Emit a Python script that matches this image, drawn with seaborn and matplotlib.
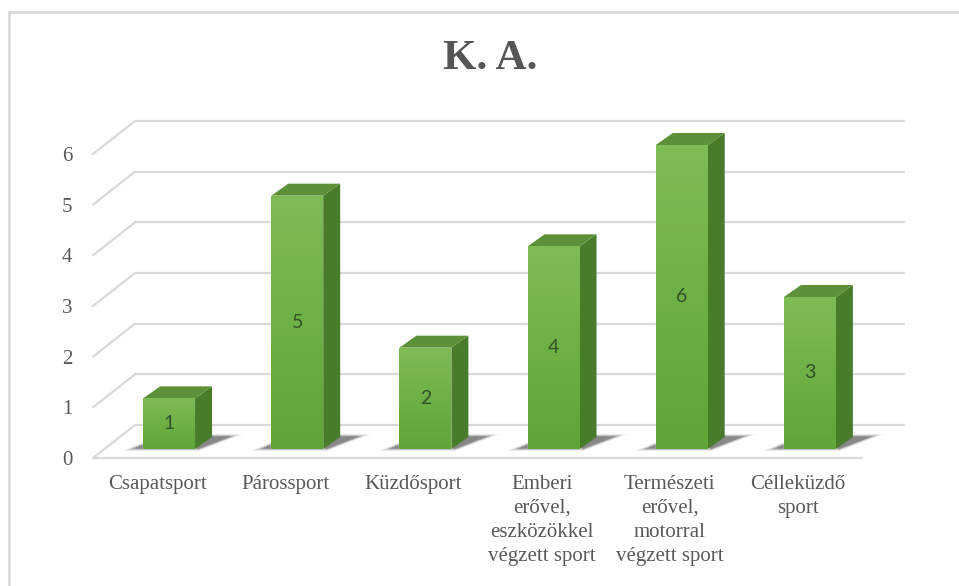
import numpy as np
import matplotlib
matplotlib.use("Agg")
import matplotlib.pyplot as plt
import seaborn as sns
import pandas as pd
from matplotlib.patches import Polygon
from matplotlib.transforms import ScaledTranslation, IdentityTransform
from matplotlib.colors import LinearSegmentedColormap

# ---- data ----
categories = ["Csapatsport", "Párossport", "Küzdősport",
              "Emberi\nerővel,\neszközökkel\nvégzett sport",
              "Természeti\nerővel,\nmotorral\nvégzett sport",
              "Célleküzdő\nsport"]
values = [1, 5, 2, 4, 6, 3]
y_ticks = [0, 1, 2, 3, 4, 5, 6]
title_text = "K. A."

# ---- style ----
W, H, DPI = 959, 586, 100
FRONT = (-12, -9)   # front plane offset (display px) relative to bar plane
BACK = (30, 24)     # back wall offset
DEPTH = (17, 12)    # bar depth
GRID = "#d9d9d9"
TXT = "#595959"

sns.set_theme(style="white")
plt.rcParams['font.family'] = ['Liberation Serif', 'DejaVu Serif']

fig = plt.figure(figsize=(W / DPI, H / DPI), dpi=DPI)
ax = fig.add_axes([105 / W, 137 / H, 769 / W, 304 / H])
df = pd.DataFrame({"cat": categories, "val": values})
sns.barplot(data=df, x="cat", y="val", width=0.405, color="#6aae3e",
            saturation=1, ax=ax, zorder=3)
ax.set_xlim(-0.5, 5.5)
ax.set_ylim(0, 6)
for s in ax.spines.values():
    s.set_visible(False)
ax.set_xlabel("")
ax.set_ylabel("")

ident = IdentityTransform()


def disp(x, y):
    return ax.transData.transform((x, y))


# gridlines (back wall) and side diagonals
x0l, x1l = ax.get_xlim()
for yv in y_ticks:
    a = disp(x0l, yv)
    b = disp(x1l, yv)
    ax.plot([a[0] + BACK[0], b[0] + BACK[0]], [a[1] + BACK[1], b[1] + BACK[1]],
            transform=ident, color=GRID, lw=1.6, clip_on=False, zorder=1)
    ax.plot([a[0] + FRONT[0], a[0] + BACK[0]], [a[1] + FRONT[1], a[1] + BACK[1]],
            transform=ident, color=GRID, lw=1.6, clip_on=False, zorder=1)
# floor front edge
a = disp(x0l, 0)
b = disp(x1l, 0)
ax.plot([a[0] + FRONT[0], b[0] + FRONT[0]], [a[1] + FRONT[1], b[1] + FRONT[1]],
        transform=ident, color=GRID, lw=1.6, clip_on=False, zorder=1)

# bars: gradient front, side and top faces, shadow
front_cmap = LinearSegmentedColormap.from_list("f", ["#5ea536", "#7ebc55"])
for p, v in zip(ax.patches, values):
    bx0 = p.get_x()
    bw = p.get_width()
    bh = p.get_height()
    bx1 = bx0 + bw
    # shadow (layered soft)
    bl = disp(bx0, 0)
    br = disp(bx1, 0)
    for k, al in enumerate([0.06, 0.09, 0.13, 0.18, 0.25]):
        g = 5 - k
        pts = [(bl[0] - 6 - 3 * g, bl[1] + 1 - 0.6 * g),
               (br[0] + 4, br[1] + 1 - 0.6 * g),
               (br[0] + DEPTH[0] + 16 + 3 * g, br[1] + DEPTH[1] + 0.6 * g),
               (bl[0] + DEPTH[0] + 2, bl[1] + DEPTH[1] + 0.6 * g)]
        ax.add_patch(Polygon(pts, closed=True, transform=ident, facecolor="#262626",
                             edgecolor="none", alpha=al, zorder=2, clip_on=False))
    # front gradient
    grad = np.linspace(0, 1, 100).reshape(-1, 1)
    im = ax.imshow(grad, extent=[bx0, bx1, 0, bh], origin="lower", cmap=front_cmap,
                   aspect="auto", zorder=3.5)
    im.set_clip_path(p)
    tl = disp(bx0, bh)
    tr = disp(bx1, bh)
    # side face
    side = [br, tr, (tr[0] + DEPTH[0], tr[1] + DEPTH[1]), (br[0] + DEPTH[0], br[1] + DEPTH[1])]
    ax.add_patch(Polygon(side, closed=True, transform=ident, facecolor="#487c2b",
                         edgecolor="none", zorder=3, clip_on=False))
    # top face
    top = [tl, tr, (tr[0] + DEPTH[0], tr[1] + DEPTH[1]), (tl[0] + DEPTH[0], tl[1] + DEPTH[1])]
    ax.add_patch(Polygon(top, closed=True, transform=ident, facecolor="#5c913a",
                         edgecolor="none", zorder=3, clip_on=False))
    # value label
    ax.text(bx0 + bw / 2, bh / 2, str(v), ha="center", va="center",
            fontsize=14, family=["Lato", "DejaVu Sans"], color="#33502a", zorder=5)

ax.set_xlim(x0l, x1l)
ax.set_ylim(0, 6)

# ticks
ax.set_yticks(y_ticks)
ax.set_yticklabels([str(t) for t in y_ticks])
ax.tick_params(axis="y", length=0, pad=15, labelsize=15, labelcolor=TXT)
ax.tick_params(axis="x", length=0, pad=12, labelsize=15, labelcolor=TXT)
shift = ScaledTranslation(FRONT[0] / DPI, FRONT[1] / DPI, fig.dpi_scale_trans)
for lab in ax.get_yticklabels() + ax.get_xticklabels():
    lab.set_transform(lab.get_transform() + shift)
for lab in ax.get_xticklabels():
    lab.set_linespacing(1.36)

# title
fig.text(490 / W, 1 - 59 / H, title_text, ha="center", va="center",
         fontsize=31, fontweight="bold", color="#555555")

# chart frame
fig.add_artist(plt.Line2D([9 / W, 1], [1 - 12 / H, 1 - 12 / H], color=GRID, lw=2,
                          transform=fig.transFigure))
fig.add_artist(plt.Line2D([9 / W, 9 / W], [0, 1 - 12 / H], color=GRID, lw=2,
                          transform=fig.transFigure))

fig.savefig("out.png", dpi=DPI, facecolor="white")
